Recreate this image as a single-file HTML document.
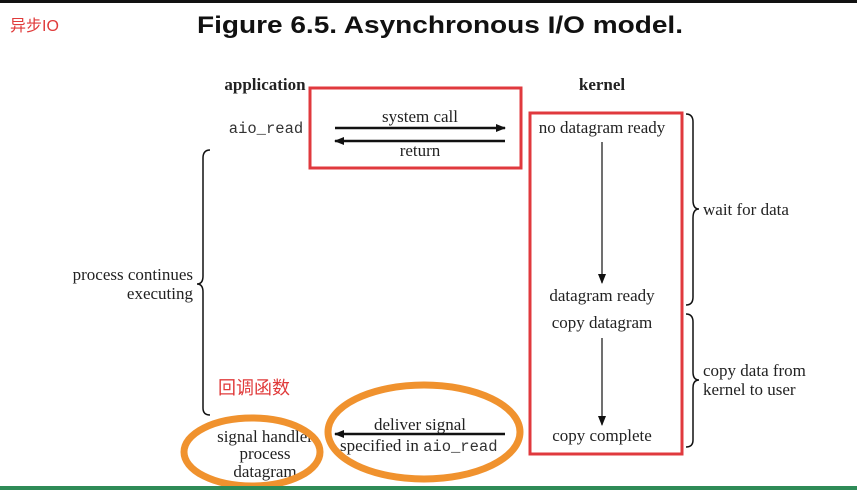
<!DOCTYPE html>
<html><head><meta charset="utf-8"><style>
body{margin:0;width:857px;height:490px;overflow:hidden;background:#fff}
svg{display:block}
.s{font-family:"Liberation Serif",serif;font-size:17px;fill:#222}
.m{font-family:"Liberation Mono",monospace;font-size:15.5px;fill:#333}
</style></head><body>
<svg width="857" height="490" viewBox="0 0 857 490">
<defs><marker id="a" markerWidth="10" markerHeight="8" refX="9" refY="4" orient="auto" markerUnits="userSpaceOnUse"><path d="M0,0L10,4L0,8z" fill="#111"/></marker></defs>
<rect x="0" y="0" width="857" height="3" fill="#111"/>
<text x="10" y="31" font-family="Liberation Sans,'Noto Sans CJK SC',sans-serif" font-size="16" fill="#e03a3a">异步IO</text>
<text x="440" y="33" text-anchor="middle" font-family="Liberation Sans,sans-serif" font-weight="bold" font-size="24" fill="#111" textLength="486" lengthAdjust="spacingAndGlyphs">Figure 6.5. Asynchronous I/O model.</text>
<text x="265" y="90" text-anchor="middle" class="s" font-weight="bold">application</text>
<text x="602" y="90" text-anchor="middle" class="s" font-weight="bold">kernel</text>
<text x="266" y="133" text-anchor="middle" class="m">aio_read</text>
<text x="420" y="122" text-anchor="middle" class="s">system call</text>
<line x1="335" y1="128" x2="505" y2="128" stroke="#111" stroke-width="2.5" marker-end="url(#a)"/>
<line x1="505" y1="141" x2="335" y2="141" stroke="#111" stroke-width="2.5" marker-end="url(#a)"/>
<text x="420" y="156" text-anchor="middle" class="s">return</text>
<rect x="310" y="88" width="211" height="80" fill="none" stroke="#e0393e" stroke-width="3"/>
<text x="602" y="133" text-anchor="middle" class="s">no datagram ready</text>
<line x1="602" y1="142" x2="602" y2="283" stroke="#111" stroke-width="1.2" marker-end="url(#a)"/>
<text x="602" y="301" text-anchor="middle" class="s">datagram ready</text>
<text x="602" y="328" text-anchor="middle" class="s">copy datagram</text>
<line x1="602" y1="338" x2="602" y2="425" stroke="#111" stroke-width="1.2" marker-end="url(#a)"/>
<text x="602" y="441" text-anchor="middle" class="s">copy complete</text>
<rect x="530" y="113" width="152" height="341" fill="none" stroke="#e0393e" stroke-width="3"/>
<path d="M686,114 Q693,114 693,122 L693,200 Q693,209 699,209 Q693,209 693,218 L693,297 Q693,305 686,305" fill="none" stroke="#111" stroke-width="1.5"/>
<text x="703" y="215" class="s">wait for data</text>
<path d="M686,314 Q693,314 693,322 L693,372 Q693,380 699,380 Q693,380 693,388 L693,440 Q693,447 686,447" fill="none" stroke="#111" stroke-width="1.5"/>
<text x="703" y="376" class="s">copy data from</text>
<text x="703" y="395" class="s">kernel to user</text>
<path d="M210,150 Q203,150 203,158 L203,276 Q203,284 197,284 Q203,284 203,292 L203,408 Q203,415 210,415" fill="none" stroke="#111" stroke-width="1.5"/>
<text x="193" y="280" text-anchor="end" class="s">process continues</text>
<text x="193" y="299" text-anchor="end" class="s">executing</text>
<text x="218" y="394" font-family="'Noto Sans CJK SC',sans-serif" font-size="18" fill="#e03a3a">回调函数</text>
<text x="265" y="442" text-anchor="middle" class="s">signal handler</text>
<text x="265" y="459" text-anchor="middle" class="s">process</text>
<text x="265" y="477" text-anchor="middle" class="s">datagram</text>
<text x="420" y="430" text-anchor="middle" class="s">deliver signal</text>
<line x1="505" y1="434" x2="335" y2="434" stroke="#111" stroke-width="2.5" marker-end="url(#a)"/>
<text x="340" y="451" class="s">specified in <tspan class="m">aio_read</tspan></text>
<ellipse cx="252" cy="452" rx="68" ry="34" fill="none" stroke="#f0922e" stroke-width="7"/>
<ellipse cx="424" cy="432" rx="96" ry="47" fill="none" stroke="#f0922e" stroke-width="7"/>
<rect x="0" y="486" width="857" height="4" fill="#2e8b57"/>
</svg>
</body></html>
